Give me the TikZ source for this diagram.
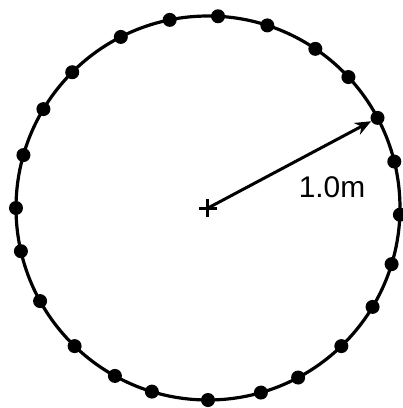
\documentclass[tikz,border=0pt]{standalone}
\usepackage{fontspec}
\setmainfont{Liberation Sans}
\usetikzlibrary{arrows.meta,calc}
\tikzset{
    rim/.style={line width=3.2bp},
    bead/.style={circle,fill=black,inner sep=0pt,minimum size=14bp},
    radial/.style={line width=3bp,-{Stealth[length=16bp,width=13bp,inset=5bp]}},
    cross/.style={line width=3bp},
}

\begin{document}
\begin{tikzpicture}[x=1bp,y=1bp]
    \useasboundingbox (-208,-200) rectangle (195,208);
    \coordinate (o) at (0,0);
    \draw[rim] (o) circle[radius=192];
    % beads round the rim
    \foreach \a [count=\i] in {14,28,43,56,72,87,101.5,117,135,149,164,180,
        193,209,226,241,253,270,286,298,314,329,343,358}
        \node[bead] (d\i) at (\a:192) {};
    \draw[cross] ($(o)+(-9,0)$) -- ($(o)+(9,0)$) ($(o)+(0,-9)$) -- ($(o)+(0,9)$);
    \draw[radial] (o) -- (d2);
    \node[font=\fontsize{30}{32}\selectfont] (r) at (124,21) {1.0m};
\end{tikzpicture}
\end{document}
